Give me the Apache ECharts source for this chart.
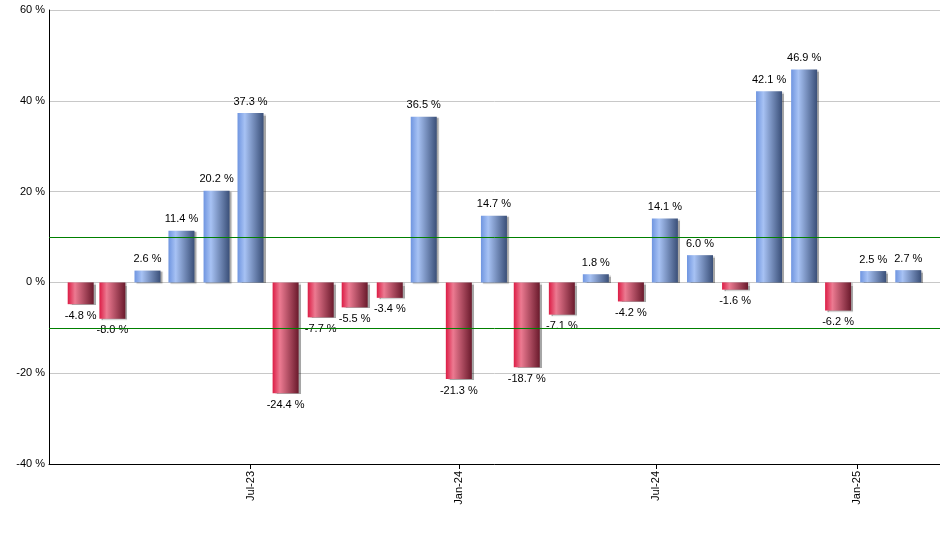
<!DOCTYPE html>
<html><head><meta charset="utf-8">
<script src="https://cdn.jsdelivr.net/npm/echarts@6/dist/echarts.min.js"></script>
<style>html,body{margin:0;padding:0;background:#fff}#c{width:940px;height:550px}</style>
</head><body><div id="c"></div>
<script>
// ---- data ----
const months = ['2023-02','2023-03','2023-04','2023-05','2023-06','2023-07','2023-08','2023-09','2023-10','2023-11','2023-12',
                '2024-01','2024-02','2024-03','2024-04','2024-05','2024-06','2024-07','2024-08','2024-09','2024-10','2024-11','2024-12',
                '2025-01','2025-02'];
const returns = [-4.8, -8.0, 2.6, 11.4, 20.2, 37.3, -24.4, -7.7, -5.5, -3.4, 36.5,
                 -21.3, 14.7, -18.7, -7.1, 1.8, -4.2, 14.1, 6.0, -1.6, 42.1, 46.9, -6.2,
                 2.5, 2.7];
const refLines = [10, -10];
const yTicks = [-40, -20, 0, 20, 40, 60];
const xTickDates = ['2023-07-01', '2024-01-01', '2024-06-23', '2024-12-18'];
const xTickLabels = ['Jul-23', 'Jan-24', 'Jul-24', 'Jan-25'];
const xRange = ['2023-01-04', '2025-03-01'];

// ---- helpers ----
function ts(s) {
  const p = s.split('-').map(Number);
  return Date.UTC(p[0], p[1] - 1, p[2] || 1);
}
const tickVals = xTickDates.map(ts);
const tickMap = {};
tickVals.forEach((v, i) => { tickMap[v] = xTickLabels[i]; });

const blueGrad = new echarts.graphic.LinearGradient(0, 0, 1, 0, [
  {offset: 0, color: '#6f95e0'},
  {offset: 0.28, color: '#a7c2f4'},
  {offset: 1, color: '#3a4f78'}
]);
const redGrad = new echarts.graphic.LinearGradient(0, 0, 1, 0, [
  {offset: 0, color: '#dc1c45'},
  {offset: 0.28, color: '#ec7a91'},
  {offset: 1, color: '#6a1a2c'}
]);

const barData = months.map((m, i) => {
  const v = returns[i];
  return {
    value: [ts(m), v],
    itemStyle: {color: v >= 0 ? blueGrad : redGrad},
    label: {position: v >= 0 ? 'top' : 'bottom'}
  };
});

const font = 'Liberation Sans, Arial, sans-serif';
const chart = echarts.init(document.getElementById('c'), null, {renderer: 'canvas'});
chart.setOption({
  animation: false,
  backgroundColor: '#fff',
  grid: {left: 49, right: 0, top: 10, bottom: 86, containLabel: false},
  xAxis: {
    type: 'value',
    min: ts(xRange[0]),
    max: ts(xRange[1]),
    axisLine: {show: true, onZero: false, lineStyle: {color: '#000', width: 1}},
    axisTick: {show: true, customValues: tickVals, length: 5, lineStyle: {color: '#000'}},
    axisLabel: {
      customValues: tickVals,
      rotate: 90,
      margin: 7,
      color: '#000',
      fontFamily: font,
      fontSize: 11,
      formatter: v => tickMap[v] || ''
    },
    splitLine: {show: false}
  },
  yAxis: {
    type: 'value',
    min: yTicks[0], max: yTicks[yTicks.length - 1], interval: 20,
    axisLine: {show: true, lineStyle: {color: '#000', width: 1}},
    axisTick: {show: false},
    axisLabel: {color: '#000', fontFamily: font, fontSize: 11, margin: 4, formatter: v => v + ' %'},
    splitLine: {show: true, lineStyle: {color: '#c8c8c8', width: 1}}
  },
  series: [{
    type: 'bar',
    barWidth: 26,
    data: barData,
    itemStyle: {shadowColor: 'rgba(0,0,0,0.35)', shadowOffsetX: 2, shadowOffsetY: 1, shadowBlur: 1},
    label: {
      show: true,
      color: '#000',
      fontFamily: font,
      fontSize: 11,
      distance: 6,
      formatter: p => p.value[1].toFixed(1) + ' %'
    },
    markLine: {
      silent: true,
      symbol: 'none',
      label: {show: false},
      lineStyle: {color: '#008000', width: 1, type: 'solid', shadowBlur: 0, shadowColor: 'transparent', shadowOffsetX: 0, shadowOffsetY: 0},
      data: refLines.map(v => ({yAxis: v}))
    },
    z: 3
  }]
});
</script>
</body></html>
